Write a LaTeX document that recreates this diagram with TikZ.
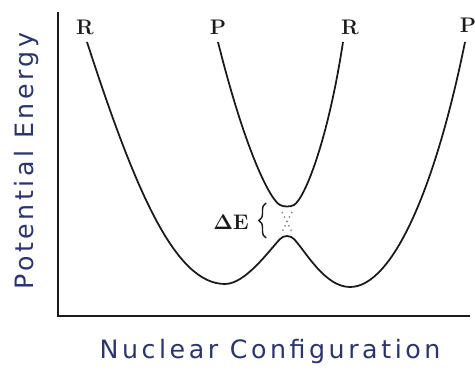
\documentclass[tikz,border=0pt]{standalone}
\usepackage[no-math]{fontspec}
\newfontfamily\handfont[LetterSpace=14]{DejaVu Sans}
\definecolor{inkBlue}{HTML}{2A3470}
\definecolor{inkBlack}{HTML}{1A1A1A}
\definecolor{inkGrey}{HTML}{8A8A8A}
\usepackage{tikz}
\usetikzlibrary{decorations.pathreplacing}
\tikzset{
  statelabel/.style={font=\large\bfseries, text=inkBlack, inner sep=0pt},
  axislabel/.style={font=\handfont\Large, text=inkBlue, inner sep=0pt},
  surface/.style={draw=inkBlack, line width=1pt},
  axisline/.style={draw=inkBlack, line width=1.1pt}
}

\begin{document}
\begin{tikzpicture}[x=0.02cm, y=-0.02cm]
  \useasboundingbox (0,0) rectangle (475,374);
  \coordinate (origin) at (58,316);
  \coordinate (ytop) at (58,12);
  \coordinate (xend) at (470,316);
  \draw[axisline] (ytop) -- (origin) -- (xend);
  \node[statelabel] (rLeft) at (85,27) {R};
  \node[statelabel] (pLeft) at (218,27) {P};
  \node[statelabel] (rRight) at (350,27) {R};
  \node[statelabel] (pRight) at (468,25) {P};
  \draw[surface] (87,42) .. controls (135,190) and (175,284) .. (225,284)
    .. controls (245,284) and (268,252) .. (280,239)
    .. controls (284,235) and (290,235) .. (294,239)
    .. controls (306,252) and (325,287) .. (350,287)
    .. controls (392,287) and (435,190) .. (465,42);
  \draw[surface] (218,42) .. controls (245,150) and (270,200) .. (280,205)
    .. controls (284,207) and (290,207) .. (294,205)
    .. controls (305,198) and (328,140) .. (343,42);
  \draw[inkGrey, dotted, line width=0.8pt] (282,212) -- (292,232) (292,212) -- (282,232);
  \draw[inkBlack, line width=0.8pt, decorate, decoration={brace, amplitude=4pt}] (266,238) -- (266,203);
  \node[font=\large\bfseries, text=inkBlack] (gap) at (231,222) {$\mathbf{\Delta E}$};
  \node[axislabel, rotate=90] (yLabel) at (27,161) {Potential Energy};
  \node[axislabel] (xLabel) at (270,352) {Nuclear Configuration};
\end{tikzpicture}
\end{document}
